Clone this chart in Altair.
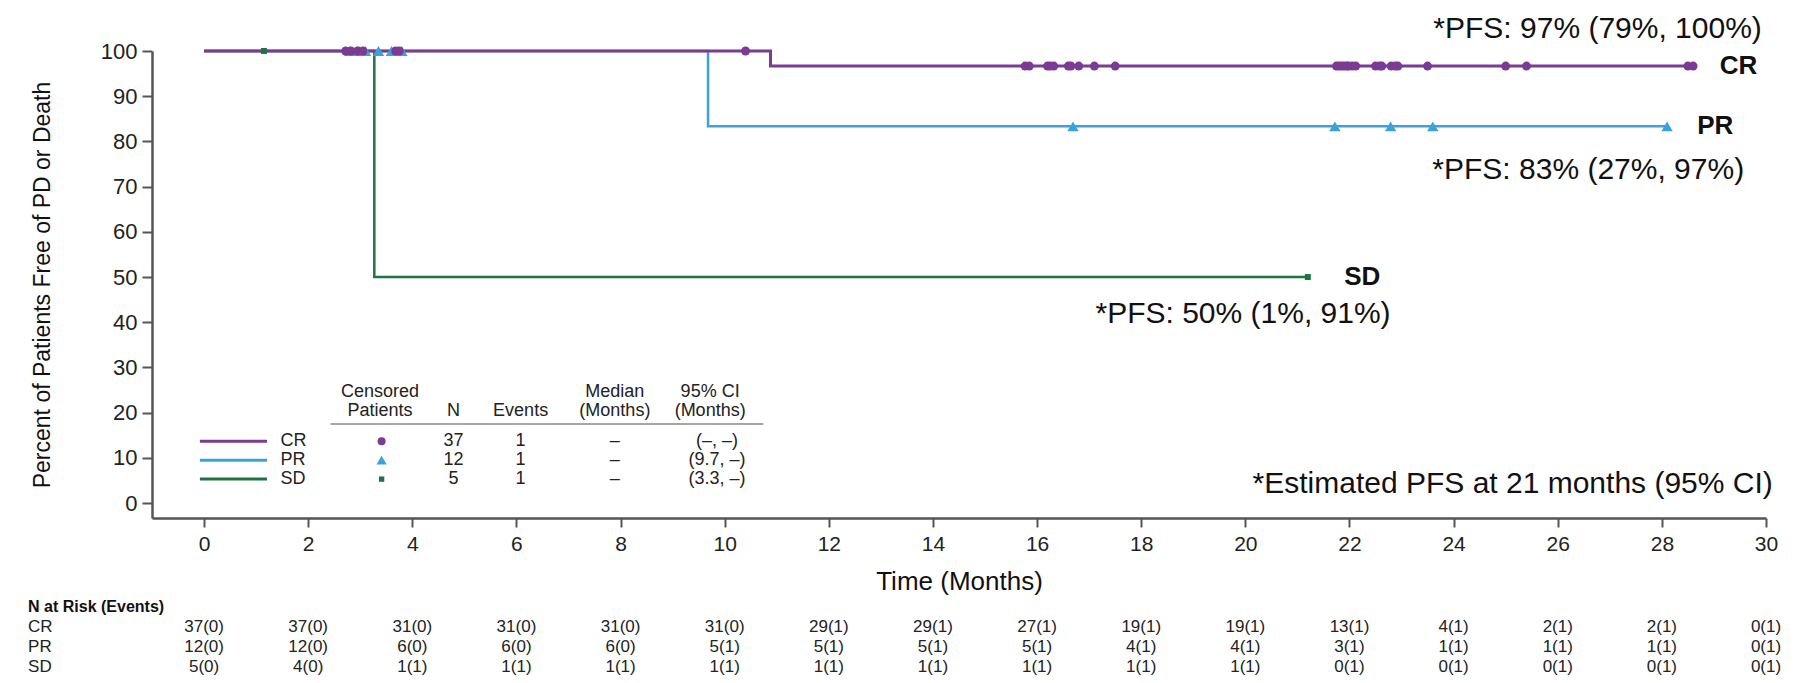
import altair as alt
import pandas as pd

FONT = "Liberation Sans"

groups = ["CR", "PR", "SD"]
group_colors = ["#7B3A93", "#3BA3DA", "#1E7442"]

# Kaplan-Meier step curves (time in months, percent free of PD or death)
cr_time = [0, 10.88, 28.62]
cr_surv = [100, 96.67, 96.67]
pr_time = [0, 9.68, 28.10]
pr_surv = [100, 83.33, 83.33]
sd_time = [0, 3.27, 21.20]
sd_surv = [100, 50, 50]

# censoring times
cr_cens = [2.72, 2.82, 2.95, 3.05, 3.68, 3.75, 10.40, 15.77, 15.85,
           16.20, 16.25, 16.32, 16.60, 16.65, 16.80, 17.10, 17.50,
           21.75, 21.80, 21.85, 21.90, 21.95, 21.98,
           22.05, 22.12, 22.50, 22.58, 22.62, 22.80, 22.88, 22.93, 23.50,
           25.00, 25.40, 28.50, 28.60]
pr_cens = [2.80, 2.95, 3.10, 3.35, 3.60, 3.80, 16.69, 21.72, 22.79, 23.60, 28.10]
sd_cens = [1.15, 2.75, 3.00, 21.20]

# number at risk (events) table
risk_times = list(range(0, 31, 2))
cr_risk = [37, 37, 31, 31, 31, 31, 29, 29, 27, 19, 19, 13, 4, 2, 2, 0]
cr_events = [0, 0, 0, 0, 0, 0, 1, 1, 1, 1, 1, 1, 1, 1, 1, 1]
pr_risk = [12, 12, 6, 6, 6, 5, 5, 5, 5, 4, 4, 3, 1, 1, 1, 0]
pr_events = [0, 0, 0, 0, 0, 1, 1, 1, 1, 1, 1, 1, 1, 1, 1, 1]
sd_risk = [5, 4, 1, 1, 1, 1, 1, 1, 1, 1, 1, 0, 0, 0, 0, 0]
sd_events = [0, 0, 1, 1, 1, 1, 1, 1, 1, 1, 1, 1, 1, 1, 1, 1]

# summary table
tbl_n = [37, 12, 5]
tbl_events = [1, 1, 1]
tbl_median = ["–", "–", "–"]
tbl_ci = ["(–, –)", "(9.7, –)", "(3.3, –)"]
pfs_labels = ["*PFS: 97% (79%, 100%)", "*PFS: 83% (27%, 97%)", "*PFS: 50% (1%, 91%)"]
footnote = "*Estimated PFS at 21 months (95% CI)"

color_scale = alt.Scale(domain=groups, range=group_colors)
x_scale = alt.Scale(domain=[-1, 30], nice=False, zero=False)
y_scale = alt.Scale(domain=[-3.3, 100], nice=False, zero=False)

x_axis = alt.Axis(values=risk_times, tickSize=9, tickWidth=2, tickColor="#555",
                  domainColor="#555", domainWidth=2.5, labelFontSize=21, labelFont=FONT,
                  labelColor="#222", labelPadding=6, labelFlush=False,
                  titleFontSize=26, titleFont=FONT, titleFontWeight="normal",
                  titleColor="#111", titlePadding=14, grid=False)
y_axis = alt.Axis(values=list(range(0, 101, 10)), tickSize=10, tickWidth=2, tickColor="#555",
                  domainColor="#555", domainWidth=2.5, labelFontSize=22, labelFont=FONT,
                  labelColor="#222", labelPadding=5, labelFlush=False,
                  titleFontSize=23, titleFont=FONT, titleFontWeight="normal",
                  titleColor="#111", titlePadding=46, grid=False)

X_TITLE = "Time (Months)"
Y_TITLE = "Percent of Patients Free of PD or Death"


def X(f="x"):
    return alt.X(f"{f}:Q", scale=x_scale, axis=x_axis, title=X_TITLE)


def Y(f="y"):
    return alt.Y(f"{f}:Q", scale=y_scale, axis=y_axis, title=Y_TITLE)


def surv_at(times, survs, t):
    v = survs[0]
    for ti, si in zip(times, survs):
        if ti <= t:
            v = si
    return v


curves = {"CR": (cr_time, cr_surv), "PR": (pr_time, pr_surv), "SD": (sd_time, sd_surv)}
cens = {"CR": cr_cens, "PR": pr_cens, "SD": sd_cens}
cmap = dict(zip(groups, group_colors))
widths = {"CR": 3, "PR": 2.5, "SD": 2.5}
shapes = {"CR": "circle", "PR": "triangle-up", "SD": "square"}
sizes = {"CR": 80, "PR": 130, "SD": 36}

layers = []
for g in ["SD", "PR", "CR"]:
    t, s = curves[g]
    df = pd.DataFrame({"x": t, "y": s})
    layers.append(alt.Chart(df).mark_line(interpolate="step-after", color=cmap[g],
                                          strokeWidth=widths[g]).encode(x=X(), y=Y()))
for g in ["SD", "PR", "CR"]:
    t, s = curves[g]
    df = pd.DataFrame({"x": cens[g], "y": [surv_at(t, s, c) for c in cens[g]]})
    layers.append(alt.Chart(df).mark_point(shape=shapes[g], filled=True, size=sizes[g],
                                           color=cmap[g], opacity=1).encode(x=X(), y=Y()))

# right-side group labels and PFS estimates
end_df = pd.DataFrame({"x": [29.11, 28.68, 21.90], "y": [96.67, 83.33, 50], "label": groups})
layers.append(alt.Chart(end_df).mark_text(font=FONT, fontSize=26, fontWeight="bold", align="left",
                                          baseline="middle", color="#111")
              .encode(x=X(), y=Y(), text="label:N"))
pfs_df = pd.DataFrame({"x": [29.92, 29.58, 22.79], "y": [104.9, 73.7, 41.8], "label": pfs_labels})
layers.append(alt.Chart(pfs_df).mark_text(font=FONT, fontSize=30, align="right",
                                          baseline="middle", color="#111")
              .encode(x=X(), y=Y(), text="label:N"))
foot_df = pd.DataFrame({"x": [30.13], "y": [4.2], "label": [footnote]})
layers.append(alt.Chart(foot_df).mark_text(font=FONT, fontSize=30, align="right",
                                           baseline="middle", color="#111")
              .encode(x=X(), y=Y(), text="label:N"))

# summary table (in-plot legend)
row_y = [13.7, 9.5, 5.3]
leg_df = pd.DataFrame({"x": [-0.08] * 3, "x2": [1.21] * 3, "y": row_y, "g": groups})
layers.append(alt.Chart(leg_df).mark_rule(strokeWidth=3).encode(
    x=X(), x2="x2:Q", y=Y(), color=alt.Color("g:N", scale=color_scale, legend=None)))
layers.append(alt.Chart(pd.DataFrame({"x": [1.47] * 3, "y": row_y, "label": groups}))
              .mark_text(font=FONT, fontSize=18, align="left", baseline="middle", color="#222")
              .encode(x=X(), y=Y(), text="label:N"))
for g, yy in zip(groups, row_y):
    layers.append(alt.Chart(pd.DataFrame({"x": [3.41], "y": [yy]}))
                  .mark_point(shape=shapes[g], filled=True, size=sizes[g] * 0.8, color=cmap[g], opacity=1)
                  .encode(x=X(), y=Y()))
cols = [(4.79, [str(v) for v in tbl_n]), (6.08, [str(v) for v in tbl_events]),
        (7.89, tbl_median), (9.85, tbl_ci)]
for cx, vals in cols:
    layers.append(alt.Chart(pd.DataFrame({"x": [cx] * 3, "y": row_y, "label": vals}))
                  .mark_text(font=FONT, fontSize=18, align="center", baseline="middle", color="#222")
                  .encode(x=X(), y=Y(), text="label:N"))
hdr_df = pd.DataFrame({
    "x": [3.38, 3.38, 4.79, 6.08, 7.89, 7.89, 9.72, 9.72],
    "y": [24.6, 20.4, 20.4, 20.4, 24.6, 20.4, 24.6, 20.4],
    "label": ["Censored", "Patients", "N", "Events", "Median", "(Months)", "95% CI", "(Months)"]})
layers.append(alt.Chart(hdr_df).mark_text(font=FONT, fontSize=18, align="center",
                                          baseline="middle", color="#222")
              .encode(x=X(), y=Y(), text="label:N"))
layers.append(alt.Chart(pd.DataFrame({"x": [2.43], "x2": [10.74], "y": [17.5]}))
              .mark_rule(strokeWidth=1.5, color="#888").encode(x=X(), x2="x2:Q", y=Y()))

# N at risk (events) table below the axis
risk_rows = {"CR": (cr_risk, cr_events), "PR": (pr_risk, pr_events), "SD": (sd_risk, sd_events)}
risk_y = {"CR": -27.4, "PR": -31.9, "SD": -36.3}
recs = []
for g in groups:
    n, e = risk_rows[g]
    for t, ni, ei in zip(risk_times, n, e):
        recs.append({"x": t, "y": risk_y[g], "label": f"{ni}({ei})"})
layers.append(alt.Chart(pd.DataFrame(recs)).mark_text(font=FONT, fontSize=17, align="center",
                                                      baseline="middle", color="#222")
              .encode(x=X(), y=Y(), text="label:N"))
layers.append(alt.Chart(pd.DataFrame({"x": [-3.38] * 3, "y": [risk_y[g] for g in groups], "label": groups}))
              .mark_text(font=FONT, fontSize=17, align="left", baseline="middle", color="#222")
              .encode(x=X(), y=Y(), text="label:N"))
layers.append(alt.Chart(pd.DataFrame({"x": [-3.38], "y": [-22.9], "label": ["N at Risk (Events)"]}))
              .mark_text(font=FONT, fontSize=16, fontWeight="bold", align="left", baseline="middle",
                         color="#111")
              .encode(x=X(), y=Y(), text="label:N"))

chart = alt.layer(*layers).properties(
    width=1614, height=467,
    padding={"left": 144, "top": 43, "right": 43, "bottom": 157},
    autosize=alt.AutoSizeParams(type="none"),
).configure_view(stroke=None)

chart.save("out.html", embed_options={"renderer": "svg", "actions": False})
